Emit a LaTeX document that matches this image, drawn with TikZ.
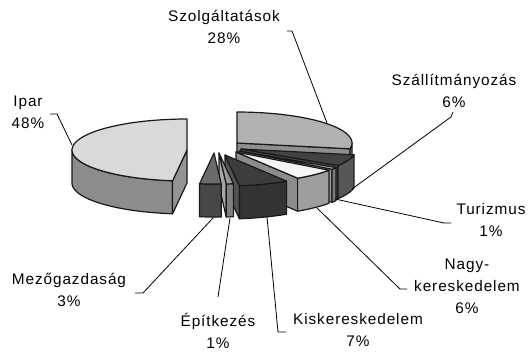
\documentclass[tikz,border=0pt]{standalone}
\usepackage{fontspec}
\setmainfont{Liberation Sans}[LetterSpace=6]
\newcommand\pieRX{115}
\newcommand\pieRY{31}
\newcommand\pieHT{33}
\newcommand\pietop[5]{\filldraw[face,fill=#5] (#1,#2) -- plot[domain=#3:#4,samples=40,variable=\t] ({#1+\pieRX*cos(\t)},{#2-\pieRY*sin(\t)}) -- cycle;}
\newcommand\pieside[5]{\filldraw[face,fill=#5] plot[domain=#3:#4,samples=40,variable=\t] ({#1+\pieRX*cos(\t)},{#2-\pieRY*sin(\t)}) -- plot[domain=#4:#3,samples=40,variable=\t] ({#1+\pieRX*cos(\t)},{#2-\pieRY*sin(\t)+\pieHT}) -- cycle;}
\newcommand\piecut[4]{\filldraw[face,fill=#4] (#1,#2) -- ({#1+\pieRX*cos(#3)},{#2-\pieRY*sin(#3)}) -- ({#1+\pieRX*cos(#3)},{#2-\pieRY*sin(#3)+\pieHT}) -- (#1,#2+\pieHT) -- cycle;}
\begin{document}
\begin{tikzpicture}[x=0.75pt,y=-0.75pt,line join=round,
  lbl/.style={align=center,font=\fontsize{11.5}{16.5}\selectfont,inner sep=0pt},
  lead/.style={draw=black,line width=0.6pt},
  face/.style={draw=black!90,line width=0.9pt}]
\useasboundingbox[fill=white] (0,0) rectangle (528,351);

% Szolgaltatasok
\piecut{237}{143}{-10.8}{black!44}
\pieside{237}{143}{-10.8}{0}{black!44}
\pietop{237}{143}{-10.8}{90}{black!30}
% Szallitmanyozas
\piecut{241}{149}{-32.4}{black!70}
\pieside{241}{149}{-32.4}{-10.8}{black!66}
\pietop{241}{149}{-32.4}{-10.8}{black!74}
% Turizmus
\piecut{239}{151}{-36}{black!40}
\pieside{239}{151}{-36}{-32.4}{black!52}
\pietop{239}{151}{-36}{-32.4}{black!25}
% Nagykereskedelem
\piecut{236}{152}{-57.6}{black!45}
\pieside{236}{152}{-57.6}{-36}{black!38}
\pietop{236}{152}{-57.6}{-36}{black!4}
% Ipar
\pieside{187}{150}{180}{262.8}{black!45}
\piecut{187}{150}{262.8}{black!42}
\pietop{187}{150}{90}{262.8}{black!15}
% Kiskereskedelem
\piecut{225}{155}{-82.8}{black!68}
\pieside{225}{155}{-82.8}{-57.6}{black!80}
\pietop{225}{155}{-82.8}{-57.6}{black!76}
% Epitkezes
\piecut{219}{153}{-86.4}{black!35}
\pieside{219}{153}{-86.4}{-82.8}{black!50}
\pietop{219}{153}{-86.4}{-82.8}{black!40}
% Mezogazdasag
\pieside{214}{153}{-97.2}{-86.4}{black!72}
\pietop{214}{153}{-97.2}{-86.4}{black!58}

% labels
\node[lbl] (szol) at (224,26.5) {Szolgáltatások\\28\%};
\node[lbl] (szal) at (454,90.5) {Szállítmányozás\\6\%};
\node[lbl] (ipar) at (28,112.5) {Ipar\\48\%};
\node[lbl] (turi) at (491,219.5) {Turizmus\\1\%};
\node[lbl] (nagy) at (467,286) {Nagy-\\kereskedelem\\6\%};
\node[lbl] (kisk) at (358,329.5) {Kiskereskedelem\\7\%};
\node[lbl] (epit) at (218,330.5) {Építkezés\\1\%};
\node[lbl] (mezo) at (69,290) {Mezőgazdaság\\3\%};

% leader points
\coordinate (szolA) at (287,31); \coordinate (szolB) at (292,31); \coordinate (szolC) at (327,123);
\coordinate (szalA) at (453,112); \coordinate (szalB) at (451,117); \coordinate (szalC) at (352,189);
\coordinate (ipA) at (50,114); \coordinate (ipB) at (57,114); \coordinate (ipC) at (72,145);
\coordinate (turA) at (451,223); \coordinate (turB) at (444,223); \coordinate (turC) at (335,199);
\coordinate (nagA) at (407,289); \coordinate (nagB) at (400,289); \coordinate (nagC) at (317,208);
\coordinate (kisA) at (286,332); \coordinate (kisB) at (278,332); \coordinate (kisC) at (267,217);
\coordinate (epA) at (218,297); \coordinate (epC) at (230,218);
\coordinate (mzA) at (135,293); \coordinate (mzB) at (143,293); \coordinate (mzC) at (213,218);

\draw[lead] (szolA) -- (szolB) -- (szolC);
\draw[lead] (szalA) -- (szalB) -- (szalC);
\draw[lead] (ipA) -- (ipB) -- (ipC);
\draw[lead] (turA) -- (turB) -- (turC);
\draw[lead] (nagA) -- (nagB) -- (nagC);
\draw[lead] (kisA) -- (kisB) -- (kisC);
\draw[lead] (epA) -- (epC);
\draw[lead] (mzA) -- (mzB) -- (mzC);
\end{tikzpicture}
\end{document}
